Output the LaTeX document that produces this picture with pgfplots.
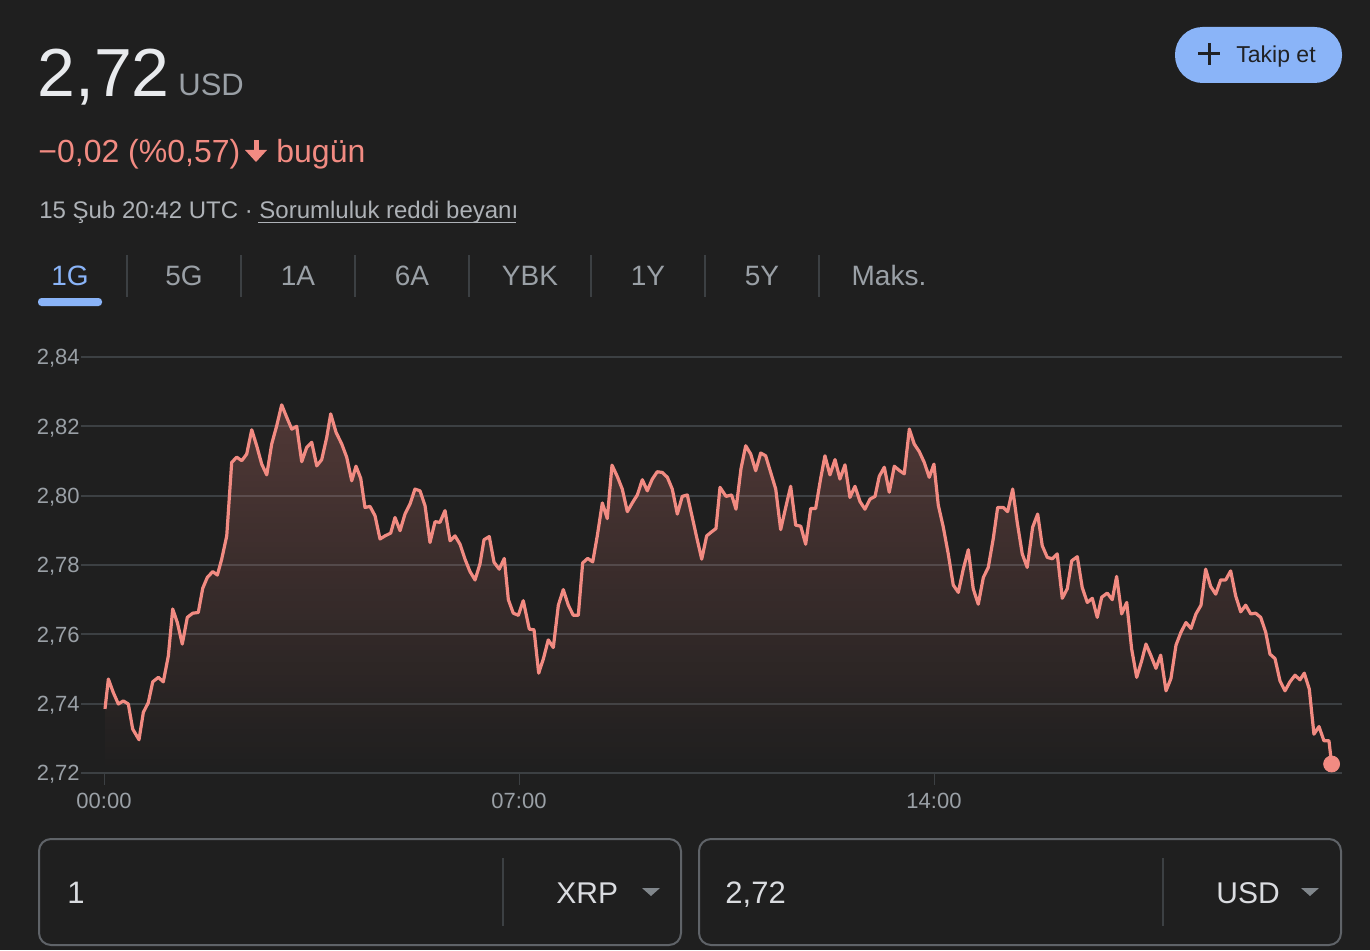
\documentclass[border=0pt]{standalone}
\usepackage{fontspec}
\setmainfont{Liberation Sans}
\usepackage{pgfplots}
\usepackage{pgfplotstable}
\pgfplotsset{compat=1.18}
\usetikzlibrary{fadings}
\definecolor{bg}{HTML}{1F1F1F}
\definecolor{wt}{HTML}{E8EAED}
\definecolor{gr}{HTML}{9AA0A6}
\definecolor{ts}{HTML}{AEB2B7}
\definecolor{sal}{HTML}{F28B82}
\definecolor{blu}{HTML}{8AB4F8}
\definecolor{grid}{HTML}{3C4043}
\definecolor{bord}{HTML}{5F6368}
\definecolor{dk}{HTML}{202124}
\definecolor{cv}{HTML}{DADCE0}
\definecolor{tri}{HTML}{80868B}

\pgfplotstableread{
m v
1.0 2.7385
4.4 2.7471
9.4 2.7432
14.5 2.7399
19.5 2.7408
24.6 2.7399
29.0 2.7327
35.4 2.7296
39.8 2.7375
44.8 2.7403
49.3 2.7463
55.0 2.7476
60.0 2.7463
65.1 2.7538
69.5 2.7673
74.2 2.7634
79.2 2.7572
84.3 2.7649
89.8 2.7661
95.4 2.7663
99.9 2.7733
104.5 2.7764
110.0 2.7781
114.7 2.7771
119.1 2.7817
124.2 2.7884
129.2 2.8096
134.3 2.8111
139.4 2.8101
144.4 2.8120
149.5 2.8190
154.5 2.8144
159.6 2.8091
164.7 2.8060
169.7 2.8149
174.8 2.8202
179.8 2.8262
184.9 2.8226
190.0 2.8192
195.0 2.8200
200.1 2.8098
205.1 2.8139
210.2 2.8154
215.3 2.8086
220.3 2.8104
225.4 2.8168
229.4 2.8236
234.8 2.8183
240.6 2.8149
245.6 2.8111
250.7 2.8043
255.0 2.8085
259.8 2.8050
264.1 2.7966
269.2 2.7969
274.3 2.7942
279.3 2.7875
284.4 2.7884
290.1 2.7892
294.5 2.7937
299.6 2.7899
304.6 2.7947
309.7 2.7976
314.7 2.8019
319.8 2.8014
324.9 2.7971
329.9 2.7865
335.0 2.7925
340.0 2.7923
345.1 2.7957
350.2 2.7870
355.2 2.7884
360.3 2.7860
365.3 2.7817
370.4 2.7781
375.5 2.7757
380.5 2.7803
384.6 2.7873
389.9 2.7882
394.7 2.7808
400.0 2.7788
405.1 2.7819
409.2 2.7700
414.2 2.7661
419.3 2.7655
424.3 2.7697
430.4 2.7615
435.2 2.7613
439.9 2.7488
444.6 2.7529
449.6 2.7584
454.7 2.7562
459.8 2.7684
464.8 2.7729
469.9 2.7684
474.9 2.7655
480.0 2.7655
484.4 2.7806
489.5 2.7819
494.6 2.7809
499.2 2.7884
504.3 2.7979
509.3 2.7934
514.1 2.8088
519.5 2.8055
524.5 2.8019
529.6 2.7954
534.6 2.7979
539.7 2.8002
544.8 2.8046
549.8 2.8014
554.9 2.8048
559.9 2.8069
565.0 2.8067
570.1 2.8053
575.1 2.8019
580.2 2.7947
585.2 2.7998
590.3 2.8002
595.4 2.7937
599.8 2.7880
604.9 2.7817
609.9 2.7884
615.0 2.7896
619.3 2.7905
623.4 2.8024
629.5 2.7998
635.2 2.8002
639.6 2.7961
644.6 2.8077
649.4 2.8144
654.5 2.8120
659.5 2.8072
664.6 2.8123
669.6 2.8115
674.7 2.8067
679.8 2.8019
684.8 2.7902
689.9 2.7966
694.9 2.8027
700.0 2.7915
705.1 2.7912
710.1 2.7860
715.2 2.7963
720.2 2.7963
725.3 2.8050
729.6 2.8115
734.7 2.8060
739.8 2.8104
744.8 2.8048
749.9 2.8089
754.9 2.7995
760.0 2.8027
765.1 2.7983
770.1 2.7961
775.2 2.7990
780.3 2.7998
784.6 2.8056
789.7 2.8082
794.7 2.8010
799.8 2.8085
804.8 2.8073
809.9 2.8063
815.0 2.8192
820.0 2.8149
825.1 2.8127
830.1 2.8096
835.2 2.8053
839.9 2.8091
844.3 2.7973
849.4 2.7909
854.4 2.7832
859.5 2.7742
864.6 2.7721
869.6 2.7788
874.7 2.7844
879.7 2.7731
884.8 2.7687
889.9 2.7764
894.9 2.7793
900.0 2.7877
904.4 2.7966
910.1 2.7966
914.5 2.7954
919.6 2.8019
924.2 2.7923
929.3 2.7832
934.3 2.7793
939.8 2.7909
944.9 2.7947
949.5 2.7856
954.6 2.7822
959.7 2.7818
964.7 2.7832
969.8 2.7704
974.9 2.7732
979.3 2.7812
985.0 2.7824
990.0 2.7735
995.1 2.7692
1000.2 2.7704
1005.2 2.7649
1009.7 2.7707
1015.3 2.7719
1020.4 2.7700
1024.8 2.7767
1029.9 2.7659
1035.0 2.7692
1040.0 2.7558
1045.1 2.7476
1050.2 2.7524
1054.5 2.7572
1059.6 2.7538
1064.6 2.7502
1069.4 2.7540
1074.8 2.7437
1079.8 2.7473
1084.9 2.7569
1089.9 2.7606
1095.0 2.7634
1100.1 2.7617
1105.1 2.7659
1110.2 2.7684
1114.9 2.7788
1120.0 2.7738
1125.1 2.7716
1130.1 2.7757
1135.2 2.7757
1140.2 2.7783
1145.3 2.7711
1150.4 2.7665
1155.4 2.7684
1160.5 2.7659
1165.5 2.7661
1170.6 2.7649
1175.7 2.7606
1180.0 2.7543
1185.1 2.7530
1190.1 2.7466
1195.2 2.7437
1200.2 2.7463
1205.3 2.7482
1210.4 2.7469
1214.7 2.7488
1219.8 2.7442
1224.5 2.7312
1229.6 2.7334
1234.6 2.7293
1239.7 2.7293
1242.4 2.7226
}\data

\begin{document}
\begin{tikzpicture}[x=0.5pt,y=0.5pt]
\fill[bg] (0,0) rectangle (1370,950);
\useasboundingbox (0,0) rectangle (1370,950);

% header
\node[anchor=base west, inner sep=0pt, text=wt] at (37,853) {\fontsize{34pt}{40pt}\selectfont 2,72};
\node[anchor=base west, inner sep=0pt, text=gr] at (178,854) {\fontsize{15.5pt}{18pt}\selectfont USD};
\node[anchor=base west, inner sep=0pt, text=sal] at (38,787) {\fontsize{16pt}{18pt}\selectfont −0,02 (\%0,57)};
\fill[sal] (253.5,810) rectangle (258.5,797);
\fill[sal] (245,800) -- (267,800) -- (256,788) -- cycle;
\node[anchor=base west, inner sep=0pt, text=sal] at (276,787) {\fontsize{16pt}{18pt}\selectfont bugün};
\node[anchor=base west, inner sep=0pt, text=ts] at (39,732) {\fontsize{12pt}{14pt}\selectfont 15 Şub 20:42 UTC · Sorumluluk reddi beyanı};
\draw[ts, line width=0.6pt] (258,727.5) -- (516,727.5);

% button
\fill[blu, rounded corners=13.75pt] (1175,867) rectangle (1342,923);
\draw[dk, line width=1.5pt] (1198,896) -- (1220,896) (1209,885) -- (1209,907);
\node[anchor=base west, inner sep=0pt, text=dk] at (1236,887) {\fontsize{11.5pt}{14pt}\selectfont Takip et};

% tabs
\foreach \xx/\tt in {184/5G,298/1A,412/6A,530/YBK,648/1Y,762/5Y,889/Maks.}{
  \node[anchor=base, inner sep=0pt, text=gr] at (\xx,665) {\fontsize{14pt}{16pt}\selectfont \tt};
}
\node[anchor=base, inner sep=0pt, text=blu] at (70,665) {\fontsize{14pt}{16pt}\selectfont 1G};
\foreach \xx in {127,241,355,469,591,705,819}{
  \draw[grid, line width=1pt] (\xx,695) -- (\xx,653);
}
\fill[blu, rounded corners=1.75pt] (38,644) rectangle (102,652);

% chart
\begin{axis}[
  at={(40.5pt,88.5pt)}, anchor=south west,
  width=630.35pt, height=208pt, scale only axis,
  xmin=-23.3, xmax=1252.6, ymin=2.72, ymax=2.84,
  axis line style={draw=none},
  ytick={2.72,2.74,2.76,2.78,2.80,2.82,2.84},
  ymajorgrids, grid style={color=grid, line width=1pt},
  xtick={0,420,840}, xticklabels={00:00,07:00,14:00},
  xtick pos=left, ytick pos=left,
  tick align=outside, major tick length=6pt,
  xtick style={draw=grid, line width=0.5pt},
  ytick style={draw=none},
  tick label style={font=\fontsize{11pt}{13pt}\selectfont, text=gr},
  yticklabel style={anchor=base east, inner sep=0pt, xshift=5.5pt, yshift=-3.9pt},
  xticklabel style={anchor=base, inner sep=0pt, yshift=-11.5pt},
  /pgf/number format/.cd, fixed, fixed zerofill, precision=2, use comma, assume math mode=true,
]
\addplot[draw=none, fill=sal, fill opacity=0.24, path fading=south] table[x=m,y=v] {\data} \closedcycle;
\addplot[color=sal, line width=1.6pt, line join=round, mark=none] table[x=m,y=v] {\data};
\addplot[only marks, mark=*, mark size=4pt, color=sal, mark options={draw=sal, fill=sal}] coordinates {(1242.4,2.7226)};
\end{axis}

% converter
\draw[bord, line width=1pt, rounded corners=6pt] (39,5) rectangle (681,111);
\draw[bord, line width=1pt, rounded corners=6pt] (699,5) rectangle (1341,111);
\draw[grid, line width=0.6pt] (503,92) -- (503,24);
\draw[grid, line width=0.6pt] (1163,92) -- (1163,24);
\node[anchor=base west, inner sep=0pt, text=cv] at (67,47) {\fontsize{15.5pt}{18pt}\selectfont 1};
\node[anchor=base west, inner sep=0pt, text=cv] at (556,47) {\fontsize{15pt}{18pt}\selectfont XRP};
\node[anchor=base west, inner sep=0pt, text=cv] at (725,47) {\fontsize{15.5pt}{18pt}\selectfont 2,72};
\node[anchor=base west, inner sep=0pt, text=cv] at (1216,47) {\fontsize{15pt}{18pt}\selectfont USD};
\fill[tri] (642,62) -- (660,62) -- (651,54) -- cycle;
\fill[tri] (1301,62) -- (1319,62) -- (1310,54) -- cycle;
\end{tikzpicture}
\end{document}
